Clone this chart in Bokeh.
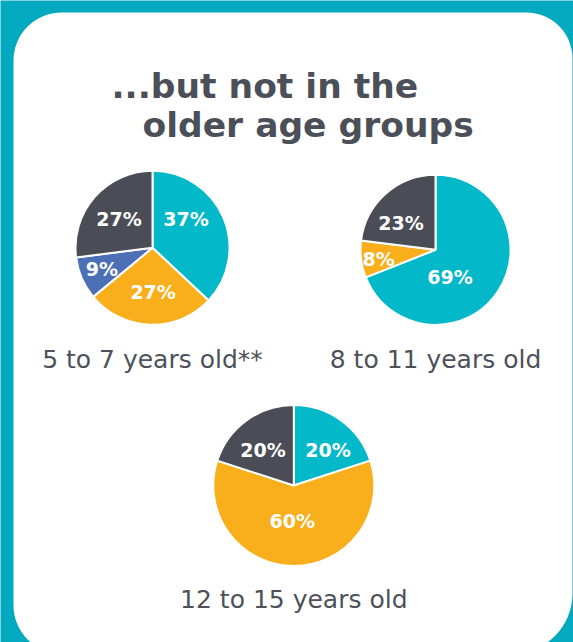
import math
from bokeh.plotting import figure
from bokeh.models import ColumnDataSource, Range1d, BoxAnnotation
from bokeh.core.properties import value
from bokeh.embed import file_html
from bokeh.resources import INLINE

# ---------------- data ----------------
title_lines = ["...but not in the", "older age groups"]
age_groups = ["5 to 7 years old**", "8 to 11 years old", "12 to 15 years old"]

pie1_segments = ["teal", "yellow", "blue", "dark"]
pie1_values = [37, 27, 9, 27]

pie2_segments = ["teal", "yellow", "dark"]
pie2_values = [69, 8, 23]

pie3_segments = ["teal", "yellow", "dark"]
pie3_values = [20, 60, 20]

# ---------------- style / layout ----------------
BG = "#03a9bf"
COLORS = {"teal": "#02b8c9", "yellow": "#f9ae1c", "blue": "#4b70b6", "dark": "#4a4d56"}
TITLE_COLOR = "#4b4f58"
LABEL_COLOR = "#4d5159"
FONT = "DejaVu Sans"

W, H = 573, 642


def Y(py):
    """convert a screen-row (from top) into the y-up data coordinate"""
    return H - py


# pie centres (px), radii and caption baselines
pie_layout = [
    dict(cx=152, cy=247.3, r=77, cap=359),
    dict(cx=435, cy=249.3, r=75, cap=359),
    dict(cx=293.3, cy=485, r=80.5, cap=599),
]
# label placement: (angle clockwise from 12 o'clock in degrees, fraction of radius)
label_place = [
    [(49.6, 0.57), (179.2, 0.58), (247.5, 0.71), (310.3, 0.57)],
    [(151.7, 0.41), (260.5, 0.77), (308.2, 0.585)],
    [(44.3, 0.61), (182.6, 0.44), (318.7, 0.58)],
]

p = figure(width=W, height=H,
           x_range=Range1d(0, W), y_range=Range1d(0, H),
           output_backend="svg", toolbar_location=None,
           x_axis_location=None, y_axis_location=None,
           min_border=0, min_border_left=0, min_border_right=0,
           min_border_top=0, min_border_bottom=0,
           background_fill_color=BG, border_fill_color=BG,
           outline_line_color=None)
p.grid.visible = False

# white rounded panel
panel = BoxAnnotation(left=13, right=572, top=Y(12), bottom=Y(653),
                      fill_color="white", fill_alpha=1.0, line_color=None,
                      border_radius=dict(top_left=48, top_right=46, bottom_right=60, bottom_left=48),
                      level="underlay")
p.add_layout(panel)

# title
p.text(x=[111, 142], y=[Y(85), Y(124)], text=title_lines,
       text_font=value(FONT), text_font_style="bold", text_font_size="34.5px",
       text_color=TITLE_COLOR, text_align="left", text_baseline="alphabetic")

pies = [(pie1_segments, pie1_values), (pie2_segments, pie2_values), (pie3_segments, pie3_values)]

for (segs, vals), lay, places, name in zip(pies, pie_layout, label_place, age_groups):
    total = float(sum(vals))
    cx, cy, r = lay["cx"], Y(lay["cy"]), lay["r"]
    starts, ends, cols = [], [], []
    cum = 0.0
    for s, v in zip(segs, vals):
        starts.append(math.pi / 2 - 2 * math.pi * cum / total)
        cum += v
        ends.append(math.pi / 2 - 2 * math.pi * cum / total)
        cols.append(COLORS[s])
    src = ColumnDataSource(dict(x=[cx] * len(vals), y=[cy] * len(vals), start=starts, end=ends,
                                color=cols, seg=segs, val=vals))
    p.wedge(x="x", y="y", radius=r, start_angle="start", end_angle="end", direction="clock",
            fill_color="color", line_color="white", line_width=2, source=src)

    lx, ly, lt = [], [], []
    for v, (ang, frac) in zip(vals, places):
        a = math.radians(ang)
        lx.append(cx + frac * r * math.sin(a))
        ly.append(cy + frac * r * math.cos(a))
        lt.append("%d%%" % v)
    p.text(x=lx, y=ly, text=lt, text_font=value(FONT), text_font_style="bold",
           text_font_size="19px", text_color="white",
           text_align="center", text_baseline="middle")

    p.text(x=[cx], y=[Y(lay["cap"])], text=[name], text_font=value(FONT),
           text_font_size="25px", text_color=LABEL_COLOR,
           text_align="center", text_baseline="alphabetic")

open("out.html", "w").write(file_html(p, INLINE))
